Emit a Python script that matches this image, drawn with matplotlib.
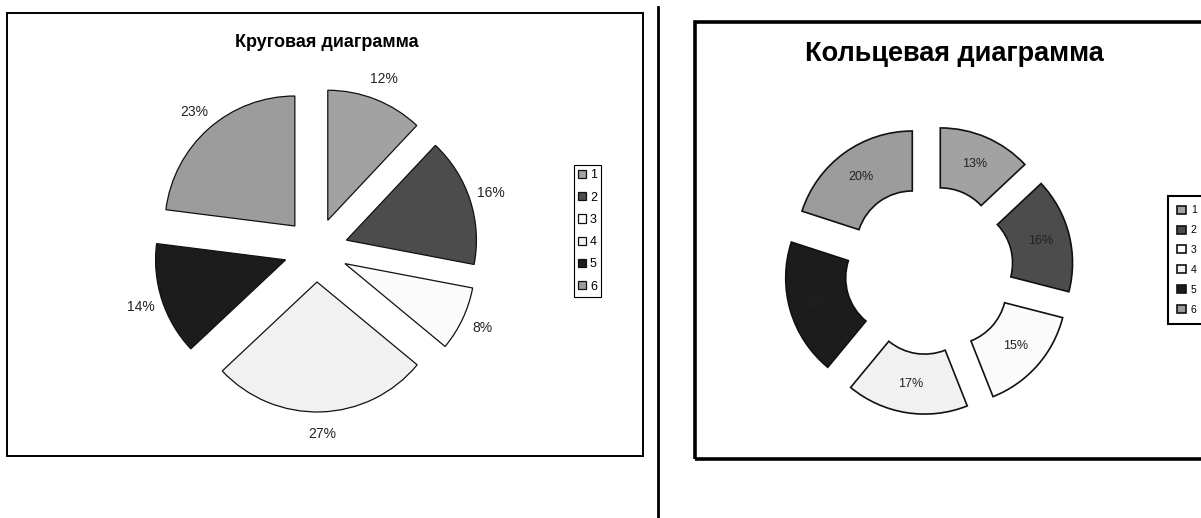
import numpy as np
import matplotlib.pyplot as plt
from matplotlib.patches import Rectangle
from matplotlib.lines import Line2D

W, H = 1201, 518

# данные
categories = ['1', '2', '3', '4', '5', '6']
pie_values = [12, 16, 8, 27, 14, 23]
ring_values = [13, 16, 15, 17, 19, 20]
colors = ['#a2a2a2', '#4c4c4c', '#fbfbfb', '#f1f1f1', '#1c1c1c', '#9c9c9c']

pie_title = 'Круговая диаграмма'
ring_title = 'Кольцевая диаграмма'

plt.rcParams['font.family'] = ['Liberation Sans', 'DejaVu Sans']

fig = plt.figure(figsize=(W / 100, H / 100), dpi=100)


def px_axes(cx, cy, half, r):
    # оси, центр которых задан в пикселях, радиус круга = 1
    ax = fig.add_axes([(cx - half) / W, (H - cy - half) / H, 2 * half / W, 2 * half / H])
    ax.set_axis_off()
    return ax, half / r


def fx(x):
    return x / W


def fy(y):
    return 1 - y / H


# рамки и разделительная линия
fig.patches.append(Rectangle((fx(7), fy(456)), fx(643 - 7), (456 - 13) / H,
                             transform=fig.transFigure, fill=False, ec='black', lw=1.4))
fig.patches.append(Rectangle((fx(695), fy(459)), fx(1215 - 695), (459 - 22) / H,
                             transform=fig.transFigure, fill=False, ec='black', lw=2.6))
fig.lines.append(Line2D([fx(658), fx(658)], [0, fy(7)], transform=fig.transFigure,
                        color='black', lw=2))

# круговая диаграмма
ax1, lim1 = px_axes(316, 250, 220, 130)
wedges1, _, autotexts1 = ax1.pie(pie_values, colors=colors, startangle=90, counterclock=False,
                                 explode=[0.246] * 6, autopct='%d%%', pctdistance=1.17,
                                 wedgeprops=dict(edgecolor='#111111', linewidth=0.9),
                                 textprops=dict(fontsize=10, color='#222222'))
ax1.set_xlim(-lim1, lim1)
ax1.set_ylim(-lim1, lim1)
ax1.set_aspect('equal')
fig.text(fx(327), fy(42), pie_title, ha='center', va='center', fontsize=13, fontweight='bold')

fig.legend(wedges1, categories, loc='center', bbox_to_anchor=(fx(587.5), fy(231)),
           fontsize=9, frameon=True, fancybox=False, edgecolor='black', framealpha=1,
           handlelength=0.65, handleheight=0.65, handletextpad=0.3, labelspacing=0.82,
           borderpad=0.35, borderaxespad=0).get_frame().set_linewidth(0.8)

# кольцевая диаграмма
ax2, lim2 = px_axes(929, 270, 200, 116)
wedges2, _, autotexts2 = ax2.pie(ring_values, colors=colors, startangle=90, counterclock=False,
                                 explode=[0.245] * 6, autopct='%d%%', pctdistance=0.75,
                                 wedgeprops=dict(width=0.517, edgecolor='#111111', linewidth=1.2),
                                 textprops=dict(fontsize=9, color='#222222'))
ax2.set_xlim(-lim2, lim2)
ax2.set_ylim(-lim2, lim2)
ax2.set_aspect('equal')
fig.text(fx(954), fy(54), ring_title, ha='center', va='center', fontsize=19.5, fontweight='bold')

leg2 = fig.legend(wedges2, categories, loc='center', bbox_to_anchor=(fx(1187), fy(260)),
                  fontsize=7.5, frameon=True, fancybox=False, edgecolor='black', framealpha=1,
                  handlelength=0.8, handleheight=0.8, handletextpad=0.5, labelspacing=0.95,
                  borderpad=0.9, borderaxespad=0)
leg2.get_frame().set_linewidth(1.5)

fig.savefig('out.png', dpi=100)
